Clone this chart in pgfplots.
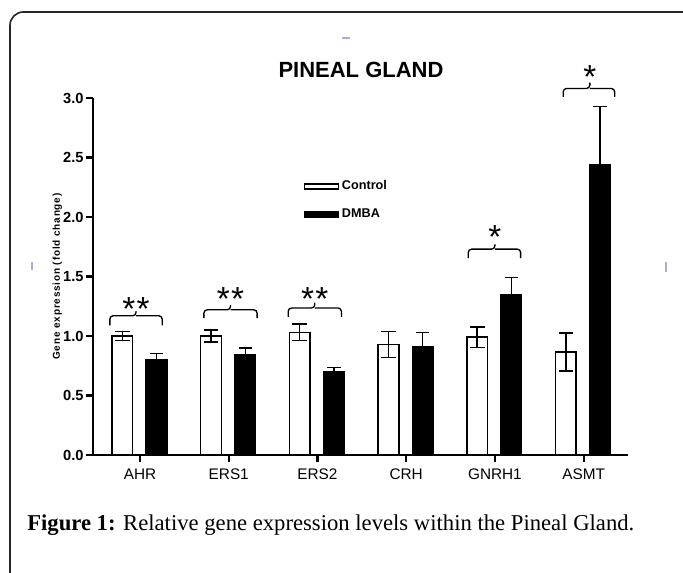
\documentclass[border=0pt]{standalone}
\usepackage{fontspec}
\setmainfont{Liberation Sans}
\newfontfamily\capfont{Liberation Serif}
\usepackage{pgfplots}
\pgfplotsset{compat=1.18}
\usepackage{pgfplotstable}

\pgfplotstableread{
idx gene y e
0 AHR 1.00 0.04
1 ERS1 1.00 0.05
2 ERS2 1.03 0.07
3 CRH 0.93 0.11
4 GNRH1 0.99 0.085
5 ASMT 0.865 0.16
}\controldata

\pgfplotstableread{
idx gene y e
0 AHR 0.80 0.055
1 ERS1 0.845 0.055
2 ERS2 0.70 0.035
3 CRH 0.91 0.12
4 GNRH1 1.35 0.14
5 ASMT 2.44 0.49
}\dmbadata

\newcommand{\bracket}[6]{%
  \draw[line width=1pt, rounded corners=2.5pt] (axis cs:#1,#4) |- (axis cs:#3,#5) -- (axis cs:#3,#6);
  \draw[line width=1pt, rounded corners=2.5pt] (axis cs:#3,#5) -| (axis cs:#2,#4);}

\begin{document}
\begin{tikzpicture}
\begin{scope}[x=0.75pt, y=-0.75pt]
\coordinate (axorig) at (93,455);
\coordinate (capt) at (27,531);
\coordinate (bbA) at (0,0);
\coordinate (bbB) at (683,573);
\begin{scope}
\clip (0,0) rectangle (683,573);
\draw[line width=1.2pt, black!85, rounded corners=10pt] (10,12) rectangle (740,640);
\end{scope}
\draw[blue!30!gray!50, line width=0.8pt] (342,38) -- (350,38);
\draw[blue!30!gray!50, line width=0.8pt] (32,262) -- (32,270);
\draw[blue!30!gray!50, line width=0.8pt] (666,262) -- (666,272);
\node[font=\bfseries\fontsize{16.5}{16.5}\selectfont] at (361,70) {PINEAL GLAND};
\end{scope}

\begin{axis}[
  at={(axorig)}, anchor=south west,
  scale only axis, width=401.25pt, height=267.75pt,
  xmin=-0.53, xmax=5.5, ymin=0, ymax=3,
  axis x line*=bottom, axis y line*=left,
  axis line style={-, line width=2pt},
  xtick={0,1,2,3,4,5},
  xticklabels={AHR,ERS1,ERS2,CRH,GNRH1,ASMT},
  ytick={0,0.5,1,1.5,2,2.5,3},
  tick align=outside,
  major tick length=5pt,
  tick style={line width=1.6pt, black},
  /pgf/number format/assume math mode=true,
  yticklabel style={font=\bfseries\fontsize{11}{11}\selectfont, xshift=1.5pt, /pgf/number format/.cd, fixed, fixed zerofill, precision=1},
  xticklabel style={font=\fontsize{11.5}{11.5}\selectfont, text height=8.5pt, text depth=0pt, yshift=-1pt},
  ylabel={\addfontfeature{LetterSpace=8}Gene expression (fold change)},
  ylabel style={font=\bfseries\fontsize{7.5}{7.5}\selectfont},
  ylabel shift=-6pt,
  clip=false,
  legend style={draw=none, fill=none, at={(axis cs:1.84,2.33)}, anchor=north west,
    inner sep=0pt, row sep=9pt, font=\bfseries\fontsize{9.5}{9.5}\selectfont,
    /tikz/every even column/.style={column sep=2pt}},
  legend cell align=left,
]
\addplot[ybar, bar width=15.5pt, bar shift=0pt, fill=white, draw=black, line width=1.1pt,
  legend image code/.code={\draw[line width=1.3pt, fill=white, solid] (0pt,-1.8pt) rectangle (25.5pt,1.8pt);},
  error bars/.cd, y dir=both, y explicit,
  error bar style={line width=1.1pt, black},
  error mark options={rotate=90, mark size=5.5pt, line width=1.1pt, black}]
  table[x expr=\thisrow{idx}-0.20, y=y, y error=e] {\controldata};
\addlegendentry{Control}
\addplot[ybar, bar width=15.5pt, bar shift=0pt, fill=black, draw=black, line width=1.1pt,
  legend image code/.code={\draw[line width=1.3pt, fill=black, solid] (0pt,-1.8pt) rectangle (25.5pt,1.8pt);},
  error bars/.cd, y dir=plus, y explicit,
  error bar style={line width=1.1pt, black},
  error mark options={rotate=90, mark size=5pt, line width=1.1pt, black}]
  table[x expr=\thisrow{idx}+0.186, y=y, y error=e] {\dmbadata};
\addlegendentry{DMBA}

\bracket{-0.34}{0.25}{-0.045}{1.09}{1.17}{1.21}
\bracket{0.72}{1.32}{1.02}{1.15}{1.22}{1.26}
\bracket{1.67}{2.27}{1.97}{1.16}{1.235}{1.28}
\bracket{3.70}{4.29}{4.00}{1.655}{1.73}{1.77}
\bracket{4.77}{5.35}{5.07}{3.01}{3.08}{3.13}

\node[anchor=base, font=\fontsize{25}{25}\selectfont, yshift=-14pt] at (axis cs:-0.045,1.29) {*\kern1pt*};
\node[anchor=base, font=\fontsize{25}{25}\selectfont, yshift=-14pt] at (axis cs:1.02,1.37) {*\kern1pt*};
\node[anchor=base, font=\fontsize{25}{25}\selectfont, yshift=-14pt] at (axis cs:1.97,1.37) {*\kern1pt*};
\node[anchor=base, font=\fontsize{25}{25}\selectfont, yshift=-14pt] at (axis cs:4.00,1.89) {*};
\node[anchor=base, font=\fontsize{25}{25}\selectfont, yshift=-14pt] at (axis cs:5.07,3.24) {*};
\end{axis}

\node[anchor=base west, inner sep=0pt, font=\capfont\fontsize{17}{20}\selectfont] at (capt)
  {\textbf{Figure 1:} Relative gene expression levels within the Pineal Gland.};

\pgfresetboundingbox
\useasboundingbox (bbA) rectangle (bbB);
\end{tikzpicture}
\end{document}
